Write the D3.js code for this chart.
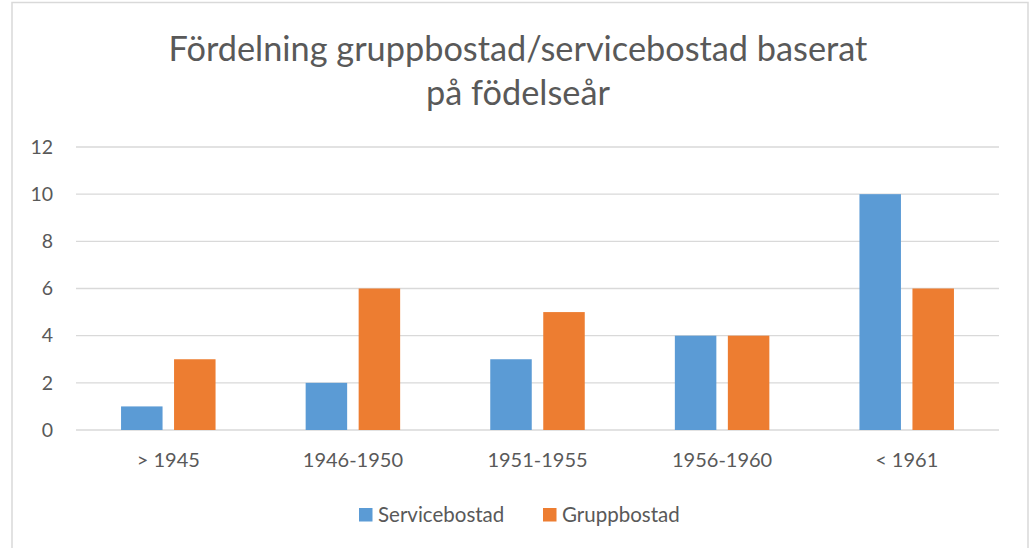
<!DOCTYPE html>
<html><head><meta charset="utf-8">
<script src="https://cdn.jsdelivr.net/npm/d3@7"></script>
<style>body{margin:0;background:#fff;} svg{display:block;}</style>
</head><body>
<svg id="c" width="1032" height="548"></svg>
<script>
const categories = ["> 1945", "1946-1950", "1951-1955", "1956-1960", "< 1961"];
const seriesNames = ["Servicebostad", "Gruppbostad"];
const servicebostad = [1, 2, 3, 4, 10];
const gruppbostad = [3, 6, 5, 4, 6];
const yTicks = [0, 2, 4, 6, 8, 10, 12];
const colors = ["#5B9BD5", "#ED7D31"];
const titleLines = ["Fördelning gruppbostad/servicebostad baserat", "på födelseår"];

const font = "Lato, 'Open Sans', sans-serif";
const svg = d3.select("#c");
svg.append("rect").attr("x", 12).attr("y", 2.5).attr("width", 1016).attr("height", 560)
  .attr("fill", "#fff").attr("stroke", "#D9D9D9").attr("stroke-width", 1.5);

const m = {l: 76, r: 999, t: 147, b: 430};
const x = d3.scaleBand().domain(categories).range([m.l, m.r]).paddingInner(0).paddingOuter(0);
const x1 = d3.scaleBand().domain(seriesNames).range([0, x.bandwidth()]).paddingInner(0.217).paddingOuter(0.85);
const y = d3.scaleLinear().domain([0, 12]).range([m.b, m.t]);

// gridlines
svg.append("g").selectAll("line").data(yTicks).join("line")
  .attr("x1", m.l).attr("x2", m.r).attr("y1", d => y(d)).attr("y2", d => y(d))
  .attr("stroke", "#D9D9D9").attr("stroke-width", 1.3);

// y axis labels
const yAxis = d3.axisLeft(y).tickValues(yTicks).tickSize(0).tickPadding(0);
const ya = svg.append("g").attr("transform", `translate(53,0)`).call(yAxis);
ya.select(".domain").remove();
ya.selectAll("text").attr("font-family", font).attr("font-size", 19.5).attr("fill", "#595959");

// bars
const data = categories.map((c, i) => ({c, vals: [servicebostad[i], gruppbostad[i]]}));
const g = svg.append("g");
data.forEach(d => {
  d.vals.forEach((v, j) => {
    g.append("rect")
      .attr("x", x(d.c) + x1(seriesNames[j]))
      .attr("width", x1.bandwidth())
      .attr("y", y(v)).attr("height", y(0) - y(v))
      .attr("fill", colors[j]);
  });
});

// x axis labels
const xAxis = d3.axisBottom(x).tickSize(0).tickPadding(0);
const xa = svg.append("g").attr("transform", `translate(0,${m.b + 37})`).call(xAxis);
xa.select(".domain").remove();
xa.selectAll("text").attr("dy", 0).attr("font-family", font).attr("font-size", 20).attr("fill", "#595959");

// title
svg.append("g").selectAll("text").data(titleLines).join("text")
  .attr("x", 518).attr("y", (d, i) => 61 + i * 44)
  .attr("text-anchor", "middle").attr("font-family", font).attr("font-size", 34.3)
  .attr("fill", "#595959").text(d => d);

// legend
const legX = [359, 543];
const lg = svg.append("g");
seriesNames.forEach((s, i) => {
  lg.append("rect").attr("x", legX[i]).attr("y", 508).attr("width", 13.5).attr("height", 13.5).attr("fill", colors[i]);
  lg.append("text").attr("x", legX[i] + 19).attr("y", 521.5).attr("font-family", font).attr("font-size", 20.5)
    .attr("fill", "#595959").text(s);
});
</script>
</body></html>
